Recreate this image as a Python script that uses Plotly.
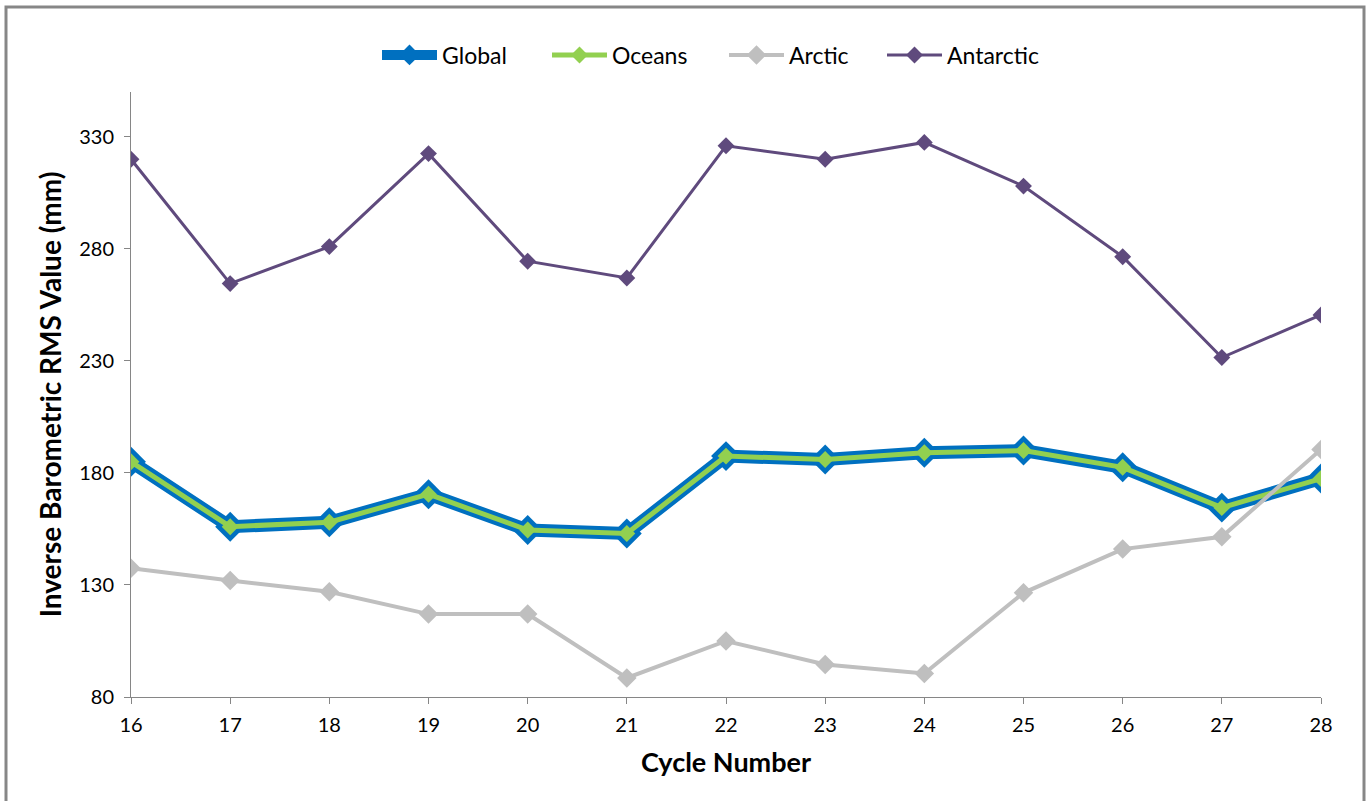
import plotly.graph_objects as go

cycles = [16, 17, 18, 19, 20, 21, 22, 23, 24, 25, 26, 27, 28]
global_vals = [185, 156, 158, 170.5, 154.5, 153, 187.5, 186, 189, 190, 182.5, 164.5, 177.5]
oceans_vals = [185, 156, 158, 170.5, 154.5, 153, 187.5, 186, 189, 190, 182.5, 164.5, 177.5]
arctic_vals = [137.5, 132, 127, 117, 117, 88.5, 105, 94.5, 90.5, 126.5, 146, 151.5, 190.5]
antarctic_vals = [320, 264.5, 281, 322.5, 274.5, 267, 326, 320, 327.5, 308, 276.5, 231.5, 250.5]
y_ticks = [80, 130, 180, 230, 280, 330]

FONT = "Lato"

W, H = 1368, 801
L, R, T, B = 131, 47, 92, 104
pw = W - L - R
ph = H - T - B


def px_x(p):
    return (p - L) / pw


def px_y(p):
    return (H - B - p) / ph


# legend entry left edges (page pixels) for each series' legend
legend_left_px = [377, 547, 724, 882]
ITEMW = 55

fig = go.Figure()
fig.add_trace(go.Scatter(
    x=cycles, y=global_vals, name="Global", mode="lines+markers",
    line=dict(color="#0070C0", width=13),
    marker=dict(symbol="diamond", size=23, color="#0070C0"),
    legend="legend",
))
fig.add_trace(go.Scatter(
    x=cycles, y=oceans_vals, name="Oceans", mode="lines+markers",
    line=dict(color="#92D050", width=5),
    marker=dict(symbol="diamond", size=13, color="#92D050"),
    legend="legend2",
))
fig.add_trace(go.Scatter(
    x=cycles, y=arctic_vals, name="Arctic", mode="lines+markers",
    line=dict(color="#BFBFBF", width=4),
    marker=dict(symbol="diamond", size=15, color="#BFBFBF"),
    legend="legend3",
))
fig.add_trace(go.Scatter(
    x=cycles, y=antarctic_vals, name="Antarctic", mode="lines+markers",
    line=dict(color="#5F4A7D", width=3),
    marker=dict(symbol="diamond", size=13, color="#5F4A7D"),
    legend="legend4",
))

fig.add_shape(type="rect", xref="paper", yref="paper",
              x0=px_x(6), x1=px_x(1364), y0=px_y(840), y1=px_y(7),
              line=dict(color="#878787", width=3), fillcolor="rgba(0,0,0,0)",
              layer="below")


def leg(xpx):
    return dict(orientation="h", x=px_x(xpx), xanchor="left", y=px_y(55), yanchor="middle",
                font=dict(family=FONT, size=23, color="#000000"), bgcolor="rgba(0,0,0,0)",
                itemwidth=ITEMW, borderwidth=0)


fig.update_layout(
    width=W, height=H,
    margin=dict(l=L, r=R, t=T, b=B),
    paper_bgcolor="white", plot_bgcolor="white",
    font=dict(family=FONT, size=20, color="#000000"),
    showlegend=True,
    legend=leg(legend_left_px[0]),
    legend2=leg(legend_left_px[1]),
    legend3=leg(legend_left_px[2]),
    legend4=leg(legend_left_px[3]),
    xaxis=dict(
        range=[16, 28], tickmode="array", tickvals=cycles,
        ticktext=[str(c) for c in cycles],
        showgrid=False, zeroline=False, showline=True, linecolor="#868686", linewidth=1,
        ticks="outside", ticklen=6, tickcolor="#868686",
        tickfont=dict(family=FONT, size=20), ticklabelstandoff=4,
        title=dict(text="<b>Cycle Number</b>", font=dict(family=FONT, size=27), standoff=18),
    ),
    yaxis=dict(
        range=[80, 350], tickmode="array", tickvals=y_ticks,
        showgrid=False, zeroline=False, showline=True, linecolor="#868686", linewidth=1,
        ticks="outside", ticklen=6, tickcolor="#868686",
        tickfont=dict(family=FONT, size=20), ticklabelstandoff=6,
        title=dict(text="<b>Inverse Barometric RMS Value (mm)</b>", font=dict(family=FONT, size=28), standoff=9),
    ),
)

fig.write_html("out.html", post_script="document.body.style.margin='0px';",
               config={"displayModeBar": False})
